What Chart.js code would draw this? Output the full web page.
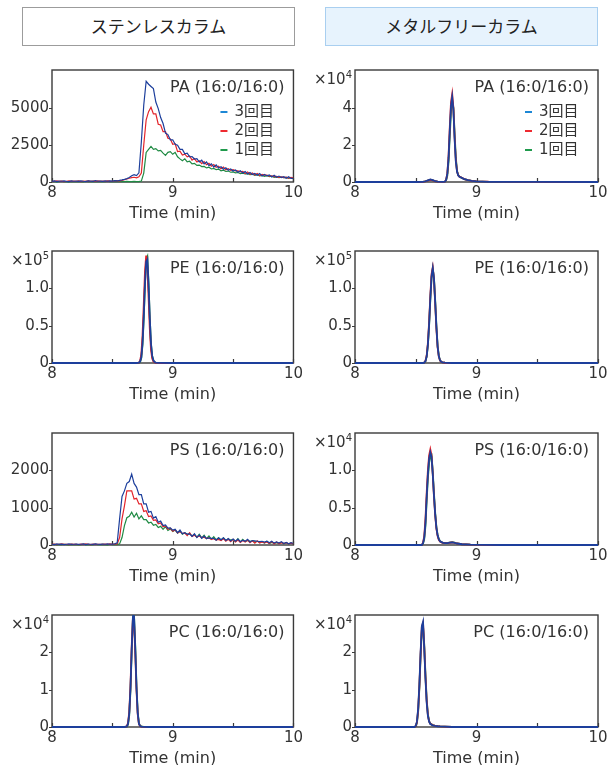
<!DOCTYPE html>
<html lang="ja">
<head>
<meta charset="utf-8">
<title>ステンレスカラム / メタルフリーカラム</title>
<script src="https://cdn.jsdelivr.net/npm/chart.js@4.4.1/dist/chart.umd.min.js"></script>
<style>
  html, body { margin: 0; padding: 0; background: #fff; overflow: hidden; }
  body { position: relative; width: 610px; height: 765px; }
  .head {
    position: absolute; top: 7px; width: 273px; height: 39px; box-sizing: border-box;
    font: 17px "Noto Sans CJK JP", sans-serif; color: #222; text-align: center; line-height: 36px;
  }
  #headSS { left: 22px; border: 1.5px solid #9c9c9c; background: #fff; }
  #headMF { left: 325px; border: 1.5px solid #a9cff0; background: #e7f3fd; }
  canvas { position: absolute; }
</style>
</head>
<body>
<div class="head" id="headSS">ステンレスカラム</div>
<div class="head" id="headMF">メタルフリーカラム</div>

<canvas id="ssPA" width="305" height="166" style="left:0;top:58px"></canvas>
<canvas id="mfPA" width="305" height="166" style="left:305px;top:58px"></canvas>
<canvas id="ssPE" width="305" height="166" style="left:0;top:239px"></canvas>
<canvas id="mfPE" width="305" height="166" style="left:305px;top:239px"></canvas>
<canvas id="ssPS" width="305" height="166" style="left:0;top:421px"></canvas>
<canvas id="mfPS" width="305" height="166" style="left:305px;top:421px"></canvas>
<canvas id="ssPC" width="305" height="166" style="left:0;top:603px"></canvas>
<canvas id="mfPC" width="305" height="166" style="left:305px;top:603px"></canvas>

<script>
// runs, top to bottom in the legend
const runLabels = ['3回目', '2回目', '1回目'];

const xTickValues = [8, 9, 10];
const xMinorTicks = [8.5, 9.5];

// shared time grid (min) for the two noisy stainless traces
const tNoisy = [
  8.00, 8.02, 8.04, 8.06, 8.08, 8.10, 8.12, 8.14, 8.16, 8.18,
  8.20, 8.22, 8.24, 8.26, 8.28, 8.30, 8.32, 8.34, 8.36, 8.38,
  8.40, 8.42, 8.44, 8.46, 8.48, 8.50, 8.52, 8.54, 8.56, 8.58,
  8.60, 8.62, 8.64, 8.66, 8.68, 8.70, 8.72, 8.74, 8.76, 8.78,
  8.80, 8.82, 8.84, 8.86, 8.88, 8.90, 8.92, 8.94, 8.96, 8.98,
  9.00, 9.02, 9.04, 9.06, 9.08, 9.10, 9.12, 9.14, 9.16, 9.18,
  9.20, 9.22, 9.24, 9.26, 9.28, 9.30, 9.32, 9.34, 9.36, 9.38,
  9.40, 9.42, 9.44, 9.46, 9.48, 9.50, 9.52, 9.54, 9.56, 9.58,
  9.60, 9.62, 9.64, 9.66, 9.68, 9.70, 9.72, 9.74, 9.76, 9.78,
  9.80, 9.82, 9.84, 9.86, 9.88, 9.90, 9.92, 9.94, 9.96, 9.98,
  10.00
];

// PA (16:0/16:0), stainless
const ssPA_run3 = [
  40, 70, 30, 60, 50, 80, 40, 30, 70, 50,
  60, 40, 80, 50, 30, 70, 60, 40, 90, 50,
  60, 40, 70, 50, 80, 60, 90, 70, 110, 140,
  180, 230, 300, 420, 500, 430, 620, 2700, 5200, 6800,
  6600, 6450, 6300, 5400, 4950, 4350, 3950, 3300, 3200, 2850,
  2850, 2550, 2480, 2200, 2200, 1900, 1950, 1700, 1720, 1550,
  1580, 1350, 1470, 1220, 1350, 1100, 1230, 1000, 1150, 940,
  1030, 860, 960, 790, 880, 740, 810, 660, 760, 600,
  700, 540, 640, 510, 580, 460, 570, 410, 510, 410,
  470, 340, 450, 320, 400, 300, 360, 250, 360, 240,
  250
];
const ssPA_run2 = [
  30, 50, 70, 40, 60, 30, 50, 80, 40, 60,
  50, 70, 30, 60, 40, 80, 50, 60, 40, 70,
  50, 60, 40, 80, 60, 50, 70, 90, 80, 110,
  150, 200, 250, 300, 320, 280, 350, 600, 2500, 4200,
  4750, 5050, 4600, 4600, 3900, 3850, 3400, 3400, 2950, 2900,
  2550, 2580, 2050, 2080, 1820, 1880, 1700, 1760, 1480, 1580,
  1350, 1430, 1240, 1380, 1160, 1260, 1070, 1180, 990, 1060,
  890, 1010, 820, 900, 780, 830, 750, 750, 680, 710,
  580, 680, 520, 610, 470, 580, 440, 510, 460, 460,
  390, 420, 360, 380, 320, 350, 300, 330, 270, 310,
  260
];
const ssPA_run1 = [
  20, 40, 10, 30, 50, 20, 30, 10, 40, 30,
  20, 40, 30, 10, 50, 30, 20, 40, 30, 20,
  40, 20, 30, 50, 20, 40, 30, 20, 40, 30,
  20, 40, 30, 20, 40, 30, 20, 60, 600, 2000,
  2200, 2400, 2200, 2250, 2100, 2130, 1950, 1800, 2000, 2050,
  1870, 2000, 1700, 1560, 1440, 1560, 1360, 1400, 1220, 1260,
  1120, 1140, 1040, 1050, 950, 1000, 880, 920, 830, 870,
  760, 800, 710, 740, 660, 680, 620, 640, 570, 600,
  540, 560, 500, 520, 450, 490, 420, 450, 380, 420,
  360, 390, 320, 350, 290, 330, 290, 310, 250, 290,
  230
];
const ssPA_yTicks = [0, 2500, 5000];
const ssPA_yLabels = ['0', '2500', '5000'];

// PA (16:0/16:0), metal-free
const tPAm = [8.00, 8.50, 8.56, 8.58, 8.60, 8.62, 8.64, 8.66, 8.68, 8.72, 8.74, 8.75, 8.76, 8.77, 8.78,
  8.79, 8.80, 8.81, 8.82, 8.83, 8.84, 8.85, 8.86, 8.88, 8.90, 8.93, 8.96, 9.00, 9.10, 9.50, 10.00];
const mfPA_run3 = [0, 0, 100, 400, 900, 1400, 1000, 500, 200, 100, 200, 1200, 4500, 13000, 28000,
  41000, 46000, 39000, 23000, 11000, 5500, 3500, 2800, 2200, 1500, 1000, 600, 300, 100, 50, 0];
const mfPA_run2 = [0, 0, 100, 300, 800, 1200, 900, 400, 200, 100, 200, 1300, 4800, 14000, 29500,
  43000, 47500, 40000, 24000, 11500, 5700, 3600, 2900, 2300, 1600, 1050, 650, 350, 150, 80, 0];
const mfPA_run1 = [0, 0, 80, 300, 700, 1100, 900, 400, 200, 100, 150, 900, 3500, 11000, 25000,
  38000, 44000, 40000, 26000, 13000, 6000, 3700, 2900, 2200, 1500, 1000, 600, 300, 100, 50, 0];
const mfPA_yTicks = [0, 20000, 40000];
const mfPA_yLabels = ['0', '2', '4'];

// PE (16:0/16:0), stainless
const tPEs = [8.00, 8.50, 8.70, 8.72, 8.73, 8.74, 8.75, 8.76, 8.77, 8.78, 8.79, 8.80, 8.81, 8.82,
  8.83, 8.84, 8.85, 8.86, 8.88, 8.90, 9.00, 9.50, 10.00];
const ssPE_run3 = [0, 0, 0, 400, 2000, 8000, 27000, 62000, 106000, 136000, 139000, 104000, 60000, 26000,
  9500, 3500, 1200, 500, 150, 50, 0, 0, 0];
const ssPE_run2 = [0, 0, 0, 500, 3000, 12000, 37000, 78000, 122000, 144000, 128000, 88000, 46000, 18000,
  6000, 2000, 800, 300, 100, 0, 0, 0, 0];
const ssPE_run1 = [0, 0, 0, 300, 1500, 7000, 25000, 60000, 105000, 138000, 142000, 106000, 60000, 25000,
  9000, 3000, 1000, 400, 100, 0, 0, 0, 0];
const ssPE_yTicks = [0, 50000, 100000];
const ssPE_yLabels = ['0', '0.5', '1.0'];

// PE (16:0/16:0), metal-free
const tPEm = [8.00, 8.50, 8.56, 8.57, 8.58, 8.59, 8.60, 8.61, 8.62, 8.63, 8.64, 8.65, 8.66, 8.67,
  8.68, 8.69, 8.70, 8.71, 8.72, 8.74, 8.76, 8.80, 9.00, 9.50, 10.00];
const mfPE_run3 = [0, 0, 0, 500, 2500, 9000, 25000, 52000, 87000, 116000, 127000, 113000, 82000, 48000,
  22000, 9000, 3500, 1500, 800, 400, 200, 0, 0, 0, 0];
const mfPE_run2 = [0, 0, 0, 600, 2800, 10000, 27000, 55000, 90000, 119000, 128000, 112000, 80000, 46000,
  21000, 8500, 3300, 1400, 700, 350, 150, 0, 0, 0, 0];
const mfPE_run1 = [0, 0, 0, 400, 2200, 8500, 24000, 50000, 85000, 114000, 126000, 114000, 84000, 50000,
  23000, 9500, 3700, 1600, 850, 400, 200, 0, 0, 0, 0];
const mfPE_yTicks = [0, 50000, 100000];
const mfPE_yLabels = ['0', '0.5', '1.0'];

// PS (16:0/16:0), stainless
const ssPS_run3 = [
  20, 10, 30, 15, 25, 10, 20, 30, 15, 20,
  25, 15, 20, 30, 10, 25, 20, 15, 30, 20,
  15, 25, 20, 30, 20, 25, 30, 60, 700, 1300,
  1450, 1650, 1700, 1900, 1650, 1550, 1350, 1350, 1100, 1100,
  880, 900, 720, 760, 610, 640, 520, 540, 450, 460,
  400, 420, 330, 400, 300, 330, 290, 300, 230, 300,
  200, 270, 180, 240, 170, 190, 180, 180, 130, 190,
  140, 190, 120, 170, 110, 160, 100, 160, 90, 130,
  100, 150, 80, 120, 110, 100, 90, 100, 80, 100,
  60, 100, 50, 80, 50, 90, 40, 70, 30, 60,
  40
];
const ssPS_run2 = [
  15, 25, 10, 20, 30, 15, 20, 10, 25, 15,
  20, 10, 25, 15, 30, 20, 10, 25, 15, 20,
  20, 15, 25, 20, 30, 20, 25, 30, 200, 700,
  1050, 1450, 1450, 1450, 1230, 1250, 1100, 1100, 900, 920,
  760, 780, 660, 670, 570, 590, 490, 510, 420, 450,
  370, 410, 320, 360, 310, 320, 250, 330, 230, 260,
  210, 240, 200, 210, 170, 190, 150, 170, 130, 150,
  120, 170, 100, 150, 90, 150, 80, 130, 70, 120,
  80, 130, 60, 110, 50, 110, 50, 80, 60, 80,
  40, 90, 30, 80, 30, 60, 40, 60, 30, 50,
  30
];
const ssPS_run1 = [
  10, 20, 5, 15, 10, 20, 10, 5, 15, 10,
  15, 5, 10, 20, 10, 15, 5, 10, 20, 10,
  10, 15, 10, 5, 20, 10, 15, 10, 30, 200,
  520, 730, 770, 880, 750, 850, 700, 780, 680, 680,
  590, 610, 530, 550, 470, 500, 420, 490, 390, 430,
  360, 400, 320, 370, 290, 330, 280, 310, 240, 280,
  210, 290, 190, 260, 170, 240, 150, 220, 140, 190,
  130, 190, 120, 160, 130, 150, 90, 170, 80, 150,
  90, 120, 100, 110, 80, 100, 70, 90, 50, 100,
  40, 70, 50, 60, 40, 70, 30, 60, 30, 50,
  30
];
const ssPS_yTicks = [0, 1000, 2000];
const ssPS_yLabels = ['0', '1000', '2000'];

// PS (16:0/16:0), metal-free
const tPSm = [8.00, 8.50, 8.55, 8.56, 8.57, 8.58, 8.59, 8.60, 8.61, 8.62, 8.63, 8.64, 8.65, 8.66, 8.67,
  8.68, 8.69, 8.70, 8.72, 8.74, 8.76, 8.78, 8.80, 8.82, 8.84, 8.88, 8.95, 9.20, 9.60, 10.00];
const mfPS_run3 = [0, 0, 0, 250, 1000, 3000, 6500, 9500, 11600, 12400, 11800, 9500, 6600, 4100, 2300,
  1300, 750, 500, 320, 260, 260, 320, 360, 300, 200, 100, 50, 0, 0, 0];
const mfPS_run2 = [0, 0, 0, 300, 1200, 3500, 7000, 10000, 12000, 12800, 12000, 9500, 6500, 4000, 2200,
  1200, 700, 450, 300, 250, 250, 300, 350, 300, 200, 100, 50, 0, 0, 0];
const mfPS_run1 = [0, 0, 0, 200, 800, 2600, 6000, 9000, 11000, 11800, 12000, 9800, 6900, 4300, 2400,
  1350, 800, 500, 330, 270, 270, 330, 370, 310, 200, 100, 50, 0, 0, 0];
const mfPS_yTicks = [0, 5000, 10000];
const mfPS_yLabels = ['0', '0.5', '1.0'];

// PC (16:0/16:0), stainless
const tPCs = [8.00, 8.55, 8.60, 8.62, 8.63, 8.64, 8.65, 8.66, 8.67, 8.675, 8.68, 8.69, 8.70, 8.71,
  8.72, 8.73, 8.74, 8.76, 8.80, 9.00, 10.00];
const ssPC_run3 = [0, 0, 0, 150, 900, 3700, 10400, 20700, 29300, 30500, 29300, 20700, 10400, 3700,
  900, 250, 120, 50, 0, 0, 0];
const ssPC_run2 = [0, 0, 0, 200, 1100, 4100, 11000, 21500, 29000, 29200, 27800, 19500, 9800, 3400,
  800, 220, 100, 40, 0, 0, 0];
const ssPC_run1 = [0, 0, 0, 100, 700, 3200, 9800, 20000, 28800, 30000, 29500, 21500, 11000, 4000,
  1000, 300, 130, 50, 0, 0, 0];
const ssPC_yTicks = [0, 10000, 20000];
const ssPC_yLabels = ['0', '1', '2'];

// PC (16:0/16:0), metal-free
const tPCm = [8.00, 8.45, 8.49, 8.50, 8.51, 8.52, 8.53, 8.54, 8.55, 8.56, 8.57, 8.58, 8.59, 8.60,
  8.61, 8.62, 8.64, 8.66, 8.68, 8.70, 8.74, 8.80, 9.00, 10.00];
const mfPC_run3 = [0, 0, 0, 300, 1500, 5000, 11500, 20000, 27000, 28200, 21000, 13000, 6500, 3000,
  1400, 800, 450, 300, 200, 150, 100, 0, 0, 0];
const mfPC_run2 = [0, 0, 0, 250, 1300, 4600, 11000, 19500, 26800, 27800, 21500, 13500, 7000, 3200,
  1500, 850, 500, 320, 210, 160, 100, 0, 0, 0];
const mfPC_run1 = [0, 0, 0, 200, 1100, 4200, 10500, 19000, 26000, 27000, 22000, 14000, 7400, 3400,
  1600, 900, 500, 330, 220, 160, 100, 0, 0, 0];
const mfPC_yTicks = [0, 10000, 20000];
const mfPC_yLabels = ['0', '1', '2'];


const lineColors = ['#1d3f9c', '#e3242b', '#1f8a43'];      // 3回目, 2回目, 1回目
const legendColors = ['#1d87d5', '#ee2a30', '#1f9a4c'];
const textColor = '#333';

Chart.defaults.font.family = '"DejaVu Sans", "Noto Sans CJK JP", sans-serif';
Chart.defaults.font.size = 15;
Chart.defaults.color = textColor;

const framePlugin = {
  id: 'frame',
  beforeDatasetsDraw(chart, args, opts) {
    const { ctx, chartArea: a, scales: { x, y } } = chart;
    ctx.save();
    ctx.strokeStyle = '#3a3a3a';
    ctx.lineWidth = 1.4;
    ctx.strokeRect(a.left, a.top, a.right - a.left, a.bottom - a.top);
    ctx.beginPath();
    xTickValues.concat(xMinorTicks).forEach(v => {
      const px = Math.round(x.getPixelForValue(v)) + 0.5;
      ctx.moveTo(px, a.bottom);
      ctx.lineTo(px, a.bottom - 4);
    });
    opts.yTicks.forEach(v => {
      const py = Math.round(y.getPixelForValue(v)) + 0.5;
      ctx.moveTo(a.left - 3, py);
      ctx.lineTo(a.left, py);
    });
    ctx.lineWidth = 1.2;
    ctx.stroke();
    ctx.restore();
  },
  afterDraw(chart, args, opts) {
    const { ctx, chartArea: a } = chart;
    ctx.save();
    ctx.fillStyle = textColor;
    ctx.textAlign = 'right';
    ctx.textBaseline = 'middle';
    ctx.font = '16px "DejaVu Sans"';
    ctx.fillText(opts.name, a.right - 9, a.top + 18);

    if (opts.exp) {
      ctx.textBaseline = 'alphabetic';
      ctx.font = '10px "DejaVu Sans"';
      ctx.fillText(opts.exp, a.left - 3, a.top + 8);
      const w = ctx.measureText(opts.exp).width;
      ctx.font = '15px "DejaVu Sans"';
      ctx.fillText('×10', a.left - 3 - w, a.top + 14);
    }

    if (opts.legend) {
      ctx.textAlign = 'left';
      ctx.textBaseline = 'middle';
      ctx.font = '15px "DejaVu Sans", "Noto Sans CJK JP"';
      runLabels.forEach((lab, i) => {
        const yy = a.top + 42 + i * 19;
        ctx.strokeStyle = legendColors[i];
        ctx.lineWidth = 2;
        ctx.beginPath();
        ctx.moveTo(a.right - 73, yy);
        ctx.lineTo(a.right - 66, yy);
        ctx.stroke();
        ctx.fillText(lab, a.right - 59, yy);
      });
    }
    ctx.restore();
  }
};

function drawPanel(p) {
  const axisW = p.right ? 50 : 52;
  const padRight = p.right ? 12 : 10;
  const runs = [p.run3, p.run2, p.run1];

  // Chart.js paints dataset 0 last, so 3回目 ends up on top
  const datasets = [0, 1, 2].map(i => ({
    label: runLabels[i],
    data: p.t.map((tv, k) => ({ x: tv, y: runs[i][k] })),
    borderColor: lineColors[i],
    borderWidth: p.lw,
    pointRadius: 0,
    tension: 0,
    clip: { left: 0, top: 0, right: 0, bottom: 3 }
  }));

  new Chart(document.getElementById(p.id), {
    type: 'line',
    data: { datasets },
    options: {
      responsive: false,
      animation: false,
      events: [],
      layout: { padding: { top: 10, right: padRight, bottom: 0, left: 0 } },
      plugins: {
        legend: { display: false },
        tooltip: { enabled: false },
        frame: { name: p.name, exp: p.exp, legend: p.legend, yTicks: p.yTicks }
      },
      scales: {
        x: {
          type: 'linear',
          min: 8,
          max: 10,
          afterBuildTicks: s => { s.ticks = xTickValues.map(v => ({ value: v })); },
          afterFit: s => { s.height = 42; },
          grid: { display: false, drawTicks: false },
          border: { display: false },
          ticks: { padding: 2, maxRotation: 0, callback: v => String(v) },
          title: {
            display: true,
            text: 'Time (min)',
            font: { size: 16 },
            padding: { top: 0, bottom: 1 }
          }
        },
        y: {
          min: 0,
          max: p.yMax,
          afterBuildTicks: s => { s.ticks = p.yTicks.map(v => ({ value: v })); },
          afterFit: s => { s.width = axisW; },
          grid: { display: false, drawTicks: false },
          border: { display: false },
          ticks: { padding: 3, callback: (v, i) => p.yLabels[i] }
        }
      }
    },
    plugins: [framePlugin]
  });
}

[
  { id: 'ssPA', name: 'PA (16:0/16:0)', t: tNoisy, run3: ssPA_run3, run2: ssPA_run2, run1: ssPA_run1,
    yMax: 7560, yTicks: ssPA_yTicks, yLabels: ssPA_yLabels, exp: null, legend: true, lw: 1.2, right: false },
  { id: 'mfPA', name: 'PA (16:0/16:0)', t: tPAm, run3: mfPA_run3, run2: mfPA_run2, run1: mfPA_run1,
    yMax: 60500, yTicks: mfPA_yTicks, yLabels: mfPA_yLabels, exp: '4', legend: true, lw: 1.8, right: true },
  { id: 'ssPE', name: 'PE (16:0/16:0)', t: tPEs, run3: ssPE_run3, run2: ssPE_run2, run1: ssPE_run1,
    yMax: 150000, yTicks: ssPE_yTicks, yLabels: ssPE_yLabels, exp: '5', legend: false, lw: 1.8, right: false },
  { id: 'mfPE', name: 'PE (16:0/16:0)', t: tPEm, run3: mfPE_run3, run2: mfPE_run2, run1: mfPE_run1,
    yMax: 150000, yTicks: mfPE_yTicks, yLabels: mfPE_yLabels, exp: '5', legend: false, lw: 1.8, right: true },
  { id: 'ssPS', name: 'PS (16:0/16:0)', t: tNoisy, run3: ssPS_run3, run2: ssPS_run2, run1: ssPS_run1,
    yMax: 3000, yTicks: ssPS_yTicks, yLabels: ssPS_yLabels, exp: null, legend: false, lw: 1.2, right: false },
  { id: 'mfPS', name: 'PS (16:0/16:0)', t: tPSm, run3: mfPS_run3, run2: mfPS_run2, run1: mfPS_run1,
    yMax: 15000, yTicks: mfPS_yTicks, yLabels: mfPS_yLabels, exp: '4', legend: false, lw: 1.8, right: true },
  { id: 'ssPC', name: 'PC (16:0/16:0)', t: tPCs, run3: ssPC_run3, run2: ssPC_run2, run1: ssPC_run1,
    yMax: 30000, yTicks: ssPC_yTicks, yLabels: ssPC_yLabels, exp: '4', legend: false, lw: 1.8, right: false },
  { id: 'mfPC', name: 'PC (16:0/16:0)', t: tPCm, run3: mfPC_run3, run2: mfPC_run2, run1: mfPC_run1,
    yMax: 30000, yTicks: mfPC_yTicks, yLabels: mfPC_yLabels, exp: '4', legend: false, lw: 1.8, right: true }
].forEach(drawPanel);
</script>
</body>
</html>
